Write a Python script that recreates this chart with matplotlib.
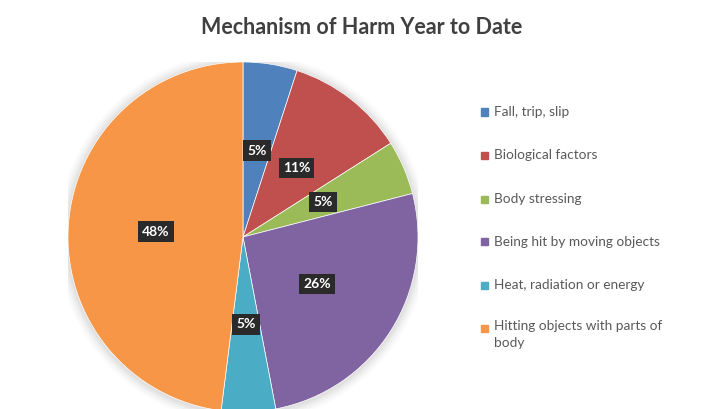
import matplotlib.pyplot as plt
from matplotlib.patches import Rectangle, Circle

# --- data ---
categories = [
    "Fall, trip, slip",
    "Biological factors",
    "Body stressing",
    "Being hit by moving objects",
    "Heat, radiation or energy",
    "Hitting objects with parts of\nbody",
]
shares = [5, 11, 5, 26, 5, 48]
colors = ["#4F81BD", "#C0504D", "#9BBB59", "#8064A2", "#4BACC6", "#F79646"]

W, H = 714, 409
fig = plt.figure(figsize=(W / 100, H / 100), dpi=100)
fig.patch.set_facecolor("white")

# pie axes: centre (243, 237) px from top, radius 175 px
cx, cy, r = 243, 237, 175
ax = fig.add_axes([(cx - r) / W, (H - cy - r) / H, 2 * r / W, 2 * r / H])
ax.axis("off")

# soft shadow round the pie
for i, a in enumerate([0.03, 0.03, 0.025, 0.02, 0.015]):
    ax.add_patch(Circle((0.0, -0.005), 1.0 + 0.012 * (i + 1), color="#000000",
                        alpha=a, lw=0, zorder=0))

wedges, texts, autotexts = ax.pie(
    shares, colors=colors, startangle=90, counterclock=False,
    autopct="%d%%", pctdistance=0.5, radius=1.0,
    wedgeprops=dict(linewidth=0.5, edgecolor="white"),
    textprops=dict(color="white", fontsize=10, fontweight="bold", family="Lato"),
)
for t in autotexts:
    t.set_bbox(dict(boxstyle="square,pad=0.3", fc="#2a2a2a", ec="none"))
ax.set_xlim(-1, 1)
ax.set_ylim(-1, 1)

fig.text(362 / W, 1 - 27 / H, "Mechanism of Harm Year to Date", ha="center",
         va="center", fontsize=15.5, fontweight="bold", color="#404040", family="Lato")

# legend drawn by hand
row_y = [112, 155, 199, 242, 285, 328]
for name, col, y in zip(categories, colors, row_y):
    fig.patches.append(Rectangle((481 / W, 1 - (y + 3.5) / H), 7 / W, 7 / H,
                                 transform=fig.transFigure, color=col))
    fig.text(494 / W, 1 - y / H, name, ha="left", va="top" if "\n" in name else "center",
             fontsize=9.8, color="#595959", family="Lato", linespacing=1.45)
# first line of the wrapped label sits on its marker row
fig.texts[-1].set_y(1 - (row_y[-1] - 7.5) / H)

plt.savefig("out.png", dpi=100)
